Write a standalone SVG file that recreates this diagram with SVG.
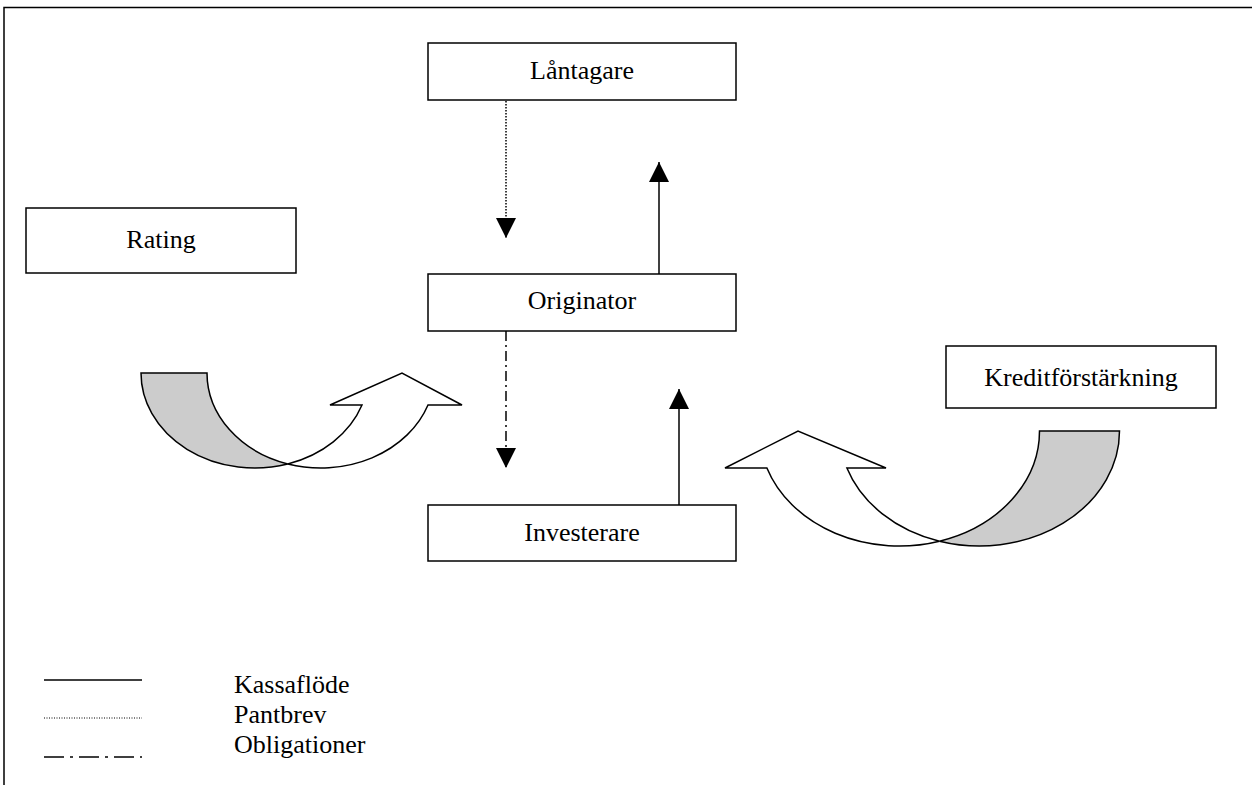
<svg xmlns="http://www.w3.org/2000/svg" width="1252" height="785" viewBox="0 0 1252 785">
<style>
.box{fill:#fff;stroke:#000;stroke-width:1.5}
.lbl{font-family:"Liberation Serif","Times New Roman",serif;font-size:26px;fill:#000}
.ln{stroke:#000;stroke-width:1.5;fill:none}
.dot{stroke-dasharray:1.5 1.5}
.dd{stroke-dasharray:10 4 2 4}
.band{fill:#fff;stroke:#000;stroke-width:1.5;stroke-linejoin:miter}
.back{fill:#cccccc;stroke:#000;stroke-width:1.5}
</style>
<defs>
<marker id="ah" viewBox="0 0 20 20" refX="20" refY="10" markerWidth="20" markerHeight="20" markerUnits="userSpaceOnUse" orient="auto">
<path d="M0,0 L20,10 L0,20 z" fill="#000"/>
</marker>
</defs>
<rect width="1252" height="785" fill="#fff"/>
<g id="frame">
<path class="ln" d="M4,785 L4,7.5 L1252,7.5"/>
</g>
<g id="lantagare">
<rect class="box" x="428" y="43" width="308" height="57"/>
<text class="lbl" x="582" y="79" text-anchor="middle">Låntagare</text>
</g>
<g id="originator">
<rect class="box" x="428" y="274" width="308" height="57"/>
<text class="lbl" x="582" y="309" text-anchor="middle">Originator</text>
</g>
<g id="investerare">
<rect class="box" x="428" y="505" width="308" height="56"/>
<text class="lbl" x="582" y="541" text-anchor="middle">Investerare</text>
</g>
<g id="rating">
<rect class="box" x="26" y="208" width="270" height="65"/>
<text class="lbl" x="161" y="248" text-anchor="middle">Rating</text>
</g>
<g id="kredit">
<rect class="box" x="946" y="346" width="270" height="62"/>
<text class="lbl" x="1081" y="386" text-anchor="middle">Kreditförstärkning</text>
</g>
<g id="connectors">
<line class="ln dot" x1="506" y1="101" x2="506" y2="238" marker-end="url(#ah)"/>
<line class="ln" x1="659" y1="274" x2="659" y2="162" marker-end="url(#ah)"/>
<line class="ln dd" x1="506" y1="331" x2="506" y2="468" marker-end="url(#ah)"/>
<line class="ln" x1="679" y1="505" x2="679" y2="389" marker-end="url(#ah)"/>
</g>
<g id="curved-left">
<path class="back" d="M141,373 L207,373 A113.8 95 0 0 0 287.8,463.9 A113.8 95 0 0 1 141,373 Z"/>
<path class="band" d="M287.8,463.9 A113.8 95 0 0 0 428,405 L462,405 L402,373 L330,405 L362,405 A113.8 95 0 0 1 287.8,463.9 Z"/>
</g>
<g id="curved-right">
<path class="back" d="M1119.5,431 L1039.5,431 A140 115 0 0 1 939.5,541.2 A140 115 0 0 0 1119.5,431 Z"/>
<path class="band" d="M939.5,541.2 A140 115 0 0 1 766.9,468 L725,468 L798,431 L886,468 L846.9,468 A140 115 0 0 0 939.5,541.2 Z"/>
</g>
<g id="legend">
<line class="ln" x1="44" y1="680" x2="142" y2="680"/>
<line x1="44" y1="718" x2="142" y2="718" stroke="#000" stroke-width="1" stroke-dasharray="1 1.5"/>
<line x1="44" y1="757" x2="142" y2="757" stroke="#000" stroke-width="1.5" stroke-dasharray="20 6 3 6"/>
<text class="lbl" x="234" y="693">Kassaflöde</text>
<text class="lbl" x="234" y="723">Pantbrev</text>
<text class="lbl" x="234" y="753">Obligationer</text>
</g>
</svg>
